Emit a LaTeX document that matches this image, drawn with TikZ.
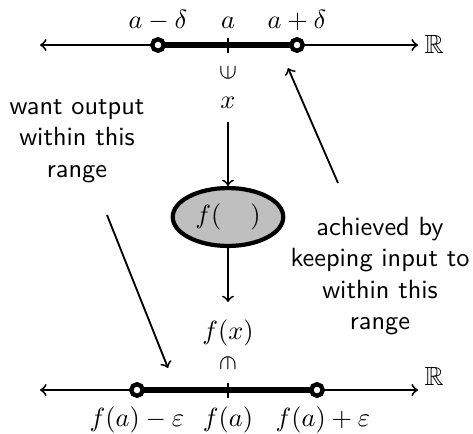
\documentclass[tikz,border=0pt]{standalone}
\usepackage{amssymb}
\usepackage{graphicx}
\usetikzlibrary{shapes.geometric}
\begin{document}
\begin{tikzpicture}[x=0.38pt,y=-0.38pt,
  axis/.style={line width=0.75pt,<->},
  seg/.style={line width=2.1pt},
  opendot/.style={circle,draw,line width=1.6pt,fill=white,inner sep=0pt,minimum size=4.3pt},
  tickmark/.style={line width=0.75pt},
  lbl/.style={inner sep=0pt},
  conn/.style={line width=0.7pt,->},
  fnode/.style={ellipse,draw,line width=1.6pt,fill=gray!50,minimum width=42pt,minimum height=22pt,inner sep=0pt},
  note/.style={align=center,font=\sffamily,inner sep=0pt}]
\useasboundingbox (0,0) rectangle (473,433);
% top axis
\coordinate (tl) at (40,45);
\coordinate (tr) at (418,45);
\coordinate (ta) at (228,45);
\draw[axis] (tl) -- (tr);
\node[opendot] (am) at (158,45) {};
\node[opendot] (ap) at (297,45) {};
\draw[seg] (am.center) -- (ap.center);
\node[opendot] at (am) {};
\node[opendot] at (ap) {};
\draw[tickmark] ([yshift=2.85pt]ta) -- ([yshift=-2.85pt]ta);
\node[lbl,anchor=base] (lam) at (158,28) {$a-\delta$};
\node[lbl,anchor=base] (la) at (228,28) {$a$};
\node[lbl,anchor=base] (lap) at (297,28) {$a+\delta$};
\node[lbl] (R1) at (434,44) {$\mathbb{R}$};
% input
\node[lbl] (in1) at (228,73) {\rotatebox{90}{$\in$}};
\node[lbl] (x) at (228,103) {$x$};
\node[fnode] (f) at (228,217) {$f(\hspace{11pt})$};
\coordinate (xs) at (228,122);
\draw[conn] (xs) -- (f.north);
\coordinate (fe) at (228,302);
\draw[conn] (f.south) -- (fe);
\node[lbl] (fx) at (228,333) {$f(x)$};
\node[lbl] (in2) at (228,363) {\rotatebox{-90}{$\in$}};
% bottom axis
\coordinate (bl) at (40,390);
\coordinate (br) at (418,390);
\coordinate (ba) at (228,390);
\draw[axis] (bl) -- (br);
\node[opendot] (bm) at (137,390) {};
\node[opendot] (bp) at (317,390) {};
\draw[seg] (bm.center) -- (bp.center);
\node[opendot] at (bm) {};
\node[opendot] at (bp) {};
\draw[tickmark] ([yshift=2.85pt]ba) -- ([yshift=-2.85pt]ba);
\node[lbl] (lbm) at (137,420) {$f(a)-\varepsilon$};
\node[lbl] (lba) at (228,420) {$f(a)$};
\node[lbl] (lbp) at (323,420) {$f(a)+\varepsilon$};
\node[lbl] (R2) at (434,376) {$\mathbb{R}$};
% notes
\node[note] (nl) at (77,141) {want output\\within this\\range};
\node[note] (nr) at (380,276) {achieved by\\keeping input to\\within this\\range};
\coordinate (c1) at (107,215);
\coordinate (c2) at (168,368);
\draw[conn] (c1) -- (c2);
\coordinate (c3) at (338,183);
\coordinate (c4) at (288,68);
\draw[conn] (c3) -- (c4);
\end{tikzpicture}
\end{document}
